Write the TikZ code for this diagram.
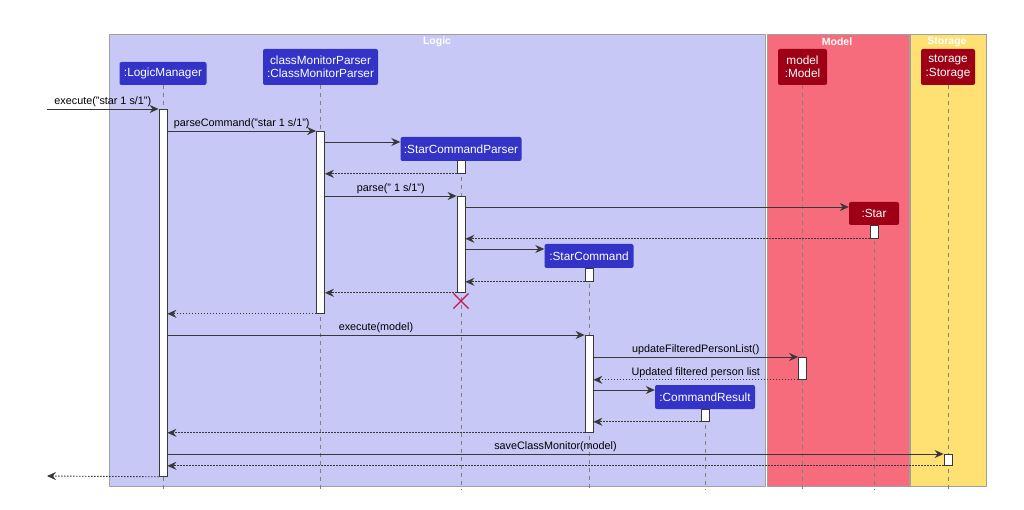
\documentclass[tikz,border=0pt]{standalone}
\usepackage{fontspec}
\setmainfont{Liberation Sans}
\usetikzlibrary{arrows.meta,shapes.misc}
\definecolor{logicbg}{HTML}{C8C8F6}
\definecolor{modelbg}{HTML}{F66C7D}
\definecolor{storebg}{HTML}{FFE072}
\definecolor{logicpart}{HTML}{3333C8}
\definecolor{modelpart}{HTML}{9E0016}
\definecolor{xred}{HTML}{C8174F}
\definecolor{lineclr}{HTML}{383838}
\definecolor{groupline}{HTML}{A0A0A0}
\begin{document}
\begin{tikzpicture}[x=1pt,y=-1pt,
  groupbox/.style={draw=groupline, line width=0.8pt, anchor=north west, inner sep=0pt},
  grouptitle/.style={text=white, font=\fontsize{10.5}{12}\selectfont\bfseries, inner sep=0pt},
  part/.style={rounded corners=2pt, draw=none, text=white, inner sep=0pt, align=center,
    font=\fontsize{11.8}{13.5}\selectfont},
  lpart/.style={part, fill=logicpart},
  mpart/.style={part, fill=modelpart},
  life/.style={draw=gray, dash pattern=on 4pt off 4pt, line width=0.8pt},
  bar/.style={draw=lineclr, fill=white, line width=0.8pt, minimum width=8pt, inner sep=0pt, anchor=north},
  msg/.style={draw=lineclr, line width=0.9pt, -{Stealth[length=9pt,width=8pt,inset=3pt]}},
  ret/.style={msg, dash pattern=on 1.5pt off 1.5pt},
  lbl/.style={above, inner sep=0pt, yshift=2pt, font=\fontsize{10.8}{12}\selectfont, text=black},
  destroy/.style={cross out, draw=xred, line width=1.2pt, minimum size=14pt, inner sep=0pt}
]
\useasboundingbox (0,0) rectangle (1024,510);
% groups
\node[groupbox, fill=logicbg, minimum width=656pt, minimum height=452pt] (logic) at (109,34) {};
\node[groupbox, fill=modelbg, minimum width=142pt, minimum height=452pt] (model) at (767,34) {};
\node[groupbox, fill=storebg, minimum width=76pt, minimum height=452pt] (storage) at (910,34) {};
\node[grouptitle] (tlogic) at (437,41.5) {Logic};
\node[grouptitle] (tmodel) at (837,41.5) {Model};
\node[grouptitle] (tstore) at (947,41.5) {Storage};
% participants
\node[lpart, minimum width=87pt, minimum height=23pt] (lm) at (163,73.5) {:LogicManager};
\node[lpart, minimum width=115pt, minimum height=36pt] (cmp) at (320.5,67) {classMonitorParser\\:ClassMonitorParser};
\node[mpart, minimum width=49pt, minimum height=36pt] (mdl) at (802.5,67) {model\\:Model};
\node[mpart, minimum width=54pt, minimum height=36pt] (sto) at (948,67) {storage\\:Storage};
\node[lpart, minimum width=121pt, minimum height=24pt] (scp) at (461,149) {:StarCommandParser};
\node[mpart, minimum width=50pt, minimum height=23pt] (star) at (874,213.5) {:Star};
\node[lpart, minimum width=89pt, minimum height=24pt] (sc) at (589,256) {:StarCommand};
\node[lpart, minimum width=100pt, minimum height=24pt] (cr) at (705,397) {:CommandResult};
% lifelines
\coordinate (bottom) at (0,490);
\foreach \p in {lm,cmp,mdl,sto,scp,star,sc,cr}{
  \draw[life] (\p.south) -- (\p.south |- bottom);
}
% activations
\node[bar, minimum height=367pt] (b1) at (163,109) {};
\node[bar, minimum height=182pt] (b2) at (320.5,131) {};
\node[bar, minimum height=13pt] (b3) at (461,160) {};
\node[bar, minimum height=96pt] (b4) at (461,196) {};
\node[bar, minimum height=13pt] (b5) at (874,225) {};
\node[bar, minimum height=13pt] (b6) at (589,268) {};
\node[bar, minimum height=97pt] (b7) at (589,335) {};
\node[bar, minimum height=22pt] (b8) at (802.5,357) {};
\node[bar, minimum height=12pt] (b9) at (705,409) {};
\node[bar, minimum height=11pt] (b10) at (948,454) {};
% helper levels
\coordinate (in0) at (47,109);
\coordinate (out0) at (47,476);
\coordinate (r142) at (0,142);
\coordinate (r207) at (0,207);
\coordinate (r249) at (0,249);
\coordinate (r390) at (0,390);
% messages
\draw[msg] (in0) -- node[lbl]{execute("star 1 s/1")} (b1.north west);
\draw[msg] (b1.east |- b2.north) -- node[lbl]{parseCommand("star 1 s/1")} (b2.north west);
\draw[msg] (b2.east |- r142) -- (scp.west |- r142);
\draw[ret] (b3.south west) -- (b2.east |- b3.south);
\draw[msg] (b2.east |- b4.north) -- node[lbl]{parse(" 1 s/1")} (b4.north west);
\draw[msg] (b4.east |- r207) -- (star.west |- r207);
\draw[ret] (b5.south west) -- (b4.east |- b5.south);
\draw[msg] (b4.east |- r249) -- (sc.west |- r249);
\draw[ret] (b6.south west) -- (b4.east |- b6.south);
\draw[ret] (b4.south west) -- (b2.east |- b4.south);
\node[destroy] (xd) at (461,301) {};
\draw[ret] (b2.south west) -- (b1.east |- b2.south);
\draw[msg] (b1.east |- b7.north) -- node[lbl]{execute(model)} (b7.north west);
\draw[msg] (b7.east |- b8.north) -- node[lbl]{updateFilteredPersonList()} (b8.north west);
\draw[ret] (b8.south west) -- node[lbl]{Updated filtered person list} (b7.east |- b8.south);
\draw[msg] (b7.east |- r390) -- (cr.west |- r390);
\draw[ret] (b9.south west) -- (b7.east |- b9.south);
\draw[ret] (b7.south west) -- (b1.east |- b7.south);
\draw[msg] (b1.east |- b10.north) -- node[lbl]{saveClassMonitor(model)} (b10.north west);
\draw[ret] (b10.south west) -- (b1.east |- b10.south);
\draw[ret] (b1.south west) -- (out0);
\end{tikzpicture}
\end{document}
